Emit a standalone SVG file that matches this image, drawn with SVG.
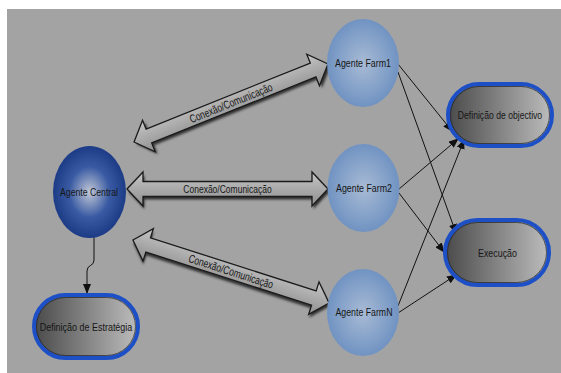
<svg xmlns="http://www.w3.org/2000/svg" width="561" height="373" viewBox="0 0 561 373">
<style>
.lbl{font-family:"Liberation Sans",Arial,sans-serif;font-size:11.5px;fill:#161616;text-anchor:middle}
.conn{fill:none;stroke:#111;stroke-width:1}
.arrow{fill:url(#arrFill);stroke:#1a1a1a;stroke-width:1.3;stroke-linejoin:miter}
.ashadow{fill:#333;filter:url(#blur)}
.box{fill:url(#boxFill);stroke:#1d4fc6;stroke-width:4}
.boxin{fill:none;stroke:#222;stroke-width:1;opacity:0.7}
.farm{fill:url(#farmFill)}
</style>
<defs>
<linearGradient id="boxFill" x1="0" y1="0" x2="1" y2="0">
<stop offset="0" stop-color="#4a4a4a"/>
<stop offset="1" stop-color="#bdbdbd"/>
</linearGradient>
<linearGradient id="arrFill" x1="0" y1="0" x2="0" y2="1">
<stop offset="0" stop-color="#c6c6c6"/>
<stop offset="1" stop-color="#8e8e8e"/>
</linearGradient>
<radialGradient id="centralFill" cx="0.5" cy="0.5" r="0.55">
<stop offset="0" stop-color="#c2c8d6"/>
<stop offset="0.5" stop-color="#3a5ba3"/>
<stop offset="1" stop-color="#163480"/>
</radialGradient>
<radialGradient id="farmFill" cx="0.5" cy="0.5" r="0.55">
<stop offset="0" stop-color="#a8bbd5"/>
<stop offset="1" stop-color="#6b8fc0"/>
</radialGradient>
<filter id="blur" x="-10%" y="-30%" width="120%" height="160%">
<feGaussianBlur stdDeviation="1.2"/>
</filter>
<marker id="ah" markerWidth="10" markerHeight="8" refX="9" refY="4" orient="auto" markerUnits="userSpaceOnUse">
<path d="M0,0 L10,4 L0,8 Z" fill="#111"/>
</marker>
</defs>
<rect x="0" y="0" width="561" height="373" fill="#ffffff"/>
<rect x="7" y="9" width="554" height="364" fill="#a3a3a3"/>

<g id="connectors">
<g id="link-top" transform="translate(231,103) rotate(-21.9)">
<path class="ashadow" transform="translate(1.5,3)" d="M-104.5,0 L-88.5,-17 L-88.5,-7.5 L88.5,-7.5 L88.5,-17 L104.5,0 L88.5,17 L88.5,7.5 L-88.5,7.5 L-88.5,17 Z"/>
<path class="arrow" d="M-104.5,0 L-88.5,-17 L-88.5,-7.5 L88.5,-7.5 L88.5,-17 L104.5,0 L88.5,17 L88.5,7.5 L-88.5,7.5 L-88.5,17 Z"/>
<text class="lbl" transform="translate(0,4) scale(0.74,1)">Conexão/Comunicação</text>
</g>
<g id="link-mid" transform="translate(227.5,189)">
<path class="ashadow" transform="translate(1.5,3)" d="M-100.5,0 L-84.5,-17 L-84.5,-7.5 L84.5,-7.5 L84.5,-17 L100.5,0 L84.5,17 L84.5,7.5 L-84.5,7.5 L-84.5,17 Z"/>
<path class="arrow" d="M-100.5,0 L-84.5,-17 L-84.5,-7.5 L84.5,-7.5 L84.5,-17 L100.5,0 L84.5,17 L84.5,7.5 L-84.5,7.5 L-84.5,17 Z"/>
<text class="lbl" transform="translate(0,4) scale(0.74,1)">Conexão/Comunicação</text>
</g>
<g id="link-bot" transform="translate(231,271.5) rotate(17.8)">
<path class="ashadow" transform="translate(1.5,3)" d="M-103,0 L-87,-17 L-87,-7.5 L87,-7.5 L87,-17 L103,0 L87,17 L87,7.5 L-87,7.5 L-87,17 Z"/>
<path class="arrow" d="M-103,0 L-87,-17 L-87,-7.5 L87,-7.5 L87,-17 L103,0 L87,17 L87,7.5 L-87,7.5 L-87,17 Z"/>
<text class="lbl" transform="translate(0,4) scale(0.74,1)">Conexão/Comunicação</text>
</g>
<path class="conn" marker-end="url(#ah)" d="M94,237 L94,260 Q94,264 90.5,265.5 Q87,267 87,271 L87,293"/>
<line class="conn" marker-end="url(#ah)" x1="398" y1="64" x2="452" y2="131"/>
<line class="conn" marker-end="url(#ah)" x1="398" y1="72" x2="456" y2="233"/>
<line class="conn" marker-end="url(#ah)" x1="399" y1="189" x2="458" y2="139"/>
<line class="conn" marker-end="url(#ah)" x1="399" y1="193" x2="444" y2="252"/>
<line class="conn" marker-end="url(#ah)" x1="398" y1="306" x2="464" y2="140"/>
<line class="conn" marker-end="url(#ah)" x1="398" y1="313" x2="456" y2="275"/>
</g>

<g id="agente-central">
<ellipse cx="89.5" cy="192" rx="36.5" ry="46" fill="url(#centralFill)"/>
<text class="lbl" transform="translate(89,195.5) scale(0.756,1)">Agente Central</text>
</g>
<g id="agente-farm1">
<ellipse class="farm" cx="363" cy="63" rx="36" ry="44"/>
<text class="lbl" transform="translate(363,66.5) scale(0.768,1)">Agente Farm1</text>
</g>
<g id="agente-farm2">
<ellipse class="farm" cx="363.5" cy="188" rx="36" ry="44"/>
<text class="lbl" transform="translate(364,192) scale(0.768,1)">Agente Farm2</text>
</g>
<g id="agente-farmn">
<ellipse class="farm" cx="363" cy="312.5" rx="36" ry="43.5"/>
<text class="lbl" transform="translate(364,316) scale(0.762,1)">Agente FarmN</text>
</g>
<g id="definicao-objectivo">
<rect class="box" x="448" y="84" width="104" height="62" rx="31"/>
<rect class="boxin" x="450.5" y="86.5" width="99" height="57" rx="28.5"/>
<text class="lbl" transform="translate(500,119) scale(0.75,1)">Definição de objectivo</text>
</g>
<g id="execucao">
<rect class="box" x="445" y="220" width="104" height="65" rx="32.5"/>
<rect class="boxin" x="447.5" y="222.5" width="99" height="60" rx="30"/>
<text class="lbl" transform="translate(497.5,256.5) scale(0.772,1)">Execução</text>
</g>
<g id="definicao-estrategia">
<rect class="box" x="34" y="295" width="104" height="63" rx="31.5"/>
<rect class="boxin" x="36.5" y="297.5" width="99" height="58" rx="29"/>
<text class="lbl" transform="translate(86,330.5) scale(0.78,1)">Definição de Estratégia</text>
</g>
</svg>
